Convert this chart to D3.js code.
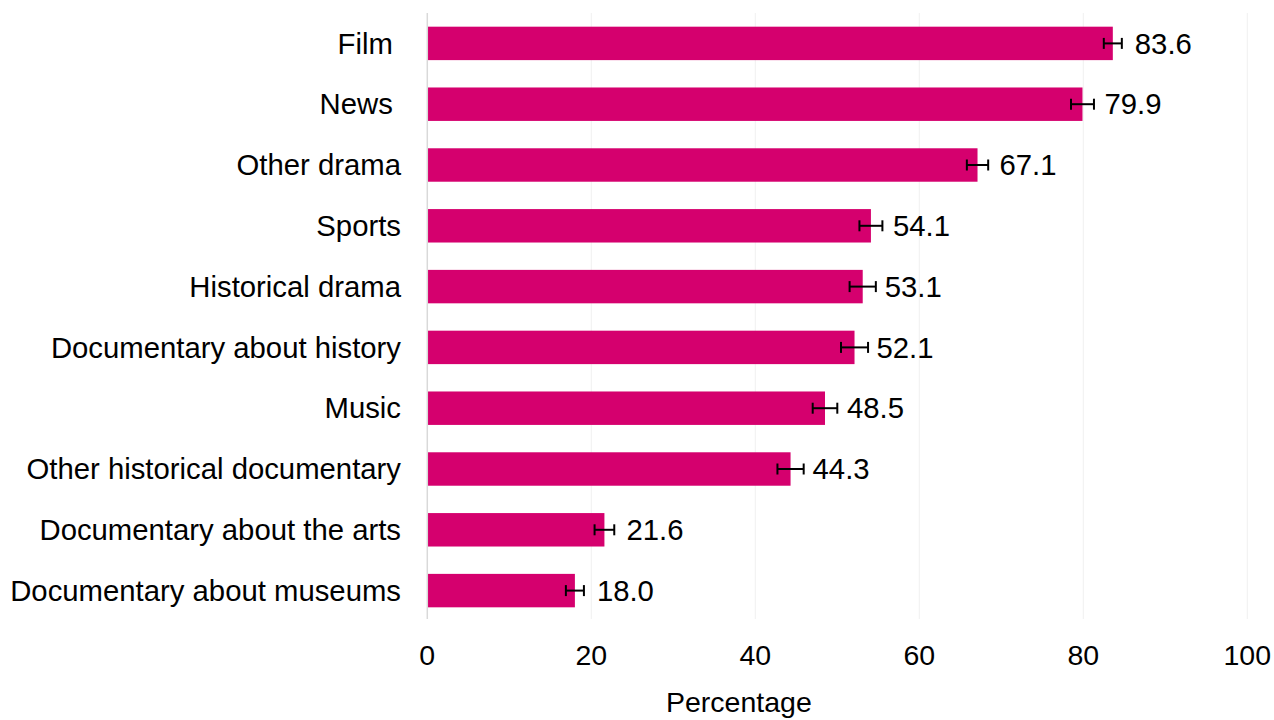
<!DOCTYPE html>
<html>
<head>
<meta charset="utf-8">
<script src="https://cdn.jsdelivr.net/npm/d3@7"></script>
<style>
  body { margin: 0; background: #fff; }
  text { font-family: "Liberation Sans", Arial, sans-serif; fill: #000; }
</style>
</head>
<body>
<script>
// chart data
const categories = ['Film ', 'News ', 'Other drama', 'Sports', 'Historical drama',
    'Documentary about history', 'Music', 'Other historical documentary',
    'Documentary about the arts', 'Documentary about museums'];
const values = [83.6, 79.9, 67.1, 54.1, 53.1, 52.1, 48.5, 44.3, 21.6, 18.0];
const errors = [1.1, 1.4, 1.3, 1.4, 1.6, 1.65, 1.5, 1.6, 1.2, 1.1];
const xTicks = [0, 20, 40, 60, 80, 100];

const w = 1274;
const h = 720;

const dataset = categories.map((c, i) => ({ cat: c, value: values[i], err: errors[i] }));

const svg = d3.select('body')
    .append('svg')
    .attr('width', w)
    .attr('height', h)

const xScale = d3.scaleLinear()
    .domain([0, 100])
    .range([427.3, 1247.3])

const yScale = d3.scaleBand()
    .domain(categories)
    .range([13, 621])
    .paddingInner(0.45)
    .paddingOuter(0.225)

// gridlines
svg.append('g')
    .selectAll('line')
    .data(xTicks.slice(1))
    .enter()
    .append('line')
    .attr('x1', d => xScale(d))
    .attr('x2', d => xScale(d))
    .attr('y1', 13)
    .attr('y2', 619)
    .attr('stroke', '#f0f0f0')
    .attr('stroke-width', 1)

svg.selectAll('rect')
    .data(dataset)
    .enter()
    .append('rect')
    .attr('x', xScale(0))
    .attr('y', d => yScale(d.cat))
    .attr('width', d => xScale(d.value) - xScale(0))
    .attr('height', yScale.bandwidth())
    .attr('fill', '#d5006e')

// zero line
svg.append('line')
    .attr('x1', xScale(0))
    .attr('x2', xScale(0))
    .attr('y1', 13)
    .attr('y2', 619)
    .attr('stroke', '#d9d9d9')
    .attr('stroke-width', 1.5)

// error bars
const eb = svg.append('g')
    .selectAll('g')
    .data(dataset)
    .enter()
    .append('g')
    .attr('stroke', '#000')
    .attr('stroke-width', 2)

const yMid = d => yScale(d.cat) + yScale.bandwidth() / 2

eb.append('line')
    .attr('x1', d => xScale(d.value - d.err))
    .attr('x2', d => xScale(d.value + d.err))
    .attr('y1', yMid)
    .attr('y2', yMid)
eb.append('line')
    .attr('x1', d => xScale(d.value - d.err))
    .attr('x2', d => xScale(d.value - d.err))
    .attr('y1', d => yMid(d) - 5.5)
    .attr('y2', d => yMid(d) + 5.5)
eb.append('line')
    .attr('x1', d => xScale(d.value + d.err))
    .attr('x2', d => xScale(d.value + d.err))
    .attr('y1', d => yMid(d) - 5.5)
    .attr('y2', d => yMid(d) + 5.5)

// value labels
svg.append('g')
    .selectAll('text')
    .data(dataset)
    .enter()
    .append('text')
    .attr('x', d => xScale(d.value) + 22)
    .attr('y', yMid)
    .attr('dy', '0.35em')
    .attr('font-size', 29.3)
    .text(d => d.value.toFixed(1))

// category labels
svg.append('g')
    .selectAll('text')
    .data(dataset)
    .enter()
    .append('text')
    .attr('x', 401)
    .attr('y', yMid)
    .attr('dy', '0.35em')
    .attr('text-anchor', 'end')
    .attr('font-size', 29.3)
    .style('white-space', 'pre')
    .text(d => d.cat)

// x tick labels
svg.append('g')
    .selectAll('text')
    .data(xTicks)
    .enter()
    .append('text')
    .attr('x', d => xScale(d))
    .attr('y', 655)
    .attr('dy', '0.35em')
    .attr('text-anchor', 'middle')
    .attr('font-size', 28.5)
    .text(d => d)

svg.append('text')
    .attr('x', xScale(38))
    .attr('y', 712)
    .attr('text-anchor', 'middle')
    .attr('font-size', 28.5)
    .text('Percentage')
</script>
</body>
</html>
